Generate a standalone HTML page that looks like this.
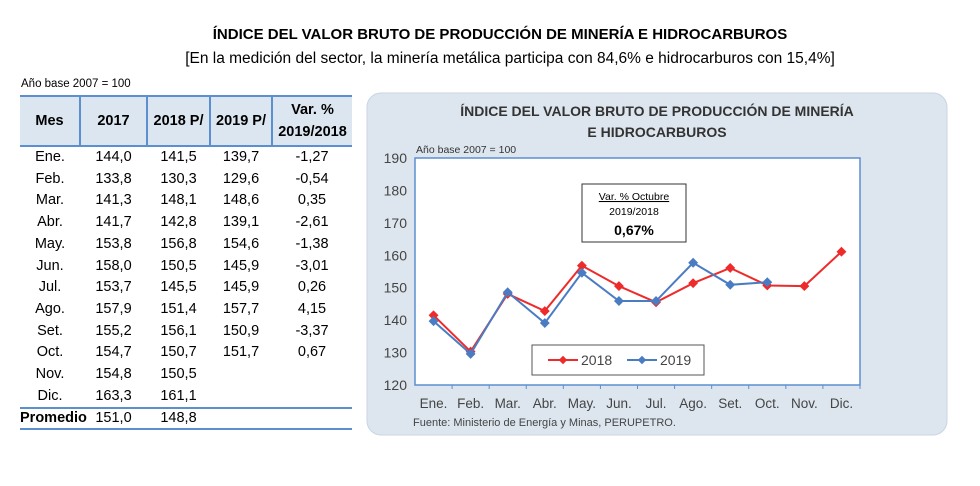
<!DOCTYPE html>
<html><head><meta charset="utf-8">
<style>
body{margin:0;width:980px;height:486px;background:#fff;font-family:"Liberation Sans",sans-serif;position:relative;overflow:hidden}
.t1{position:absolute;left:0;width:1000px;top:26px;text-align:center;font-weight:bold;font-size:15px}
.t2{position:absolute;left:0;width:1020px;top:50px;text-align:center;font-size:15.5px}
.base{position:absolute;left:21px;top:78px;font-size:11.5px}
table{position:absolute;left:20px;top:95px;border-collapse:collapse;font-size:14.5px;table-layout:fixed;width:332px}
td,th{padding:0;text-align:center;height:21.7px;line-height:21.7px}
th{background:#dce6f1;height:48px;line-height:22px;font-size:14.5px;border-left:2px solid #5b8fd0;border-top:2px solid #5b8fd0;border-bottom:2px solid #5b8fd0}
th:first-child{border-left:none}
.prom td{border-top:2px solid #5b8fd0;border-bottom:2px solid #5b8fd0;height:19px;line-height:19px}
.prom td:first-child{font-weight:bold}
</style></head><body>
<div class="t1">ÍNDICE DEL VALOR BRUTO DE PRODUCCIÓN DE MINERÍA E HIDROCARBUROS</div>
<div class="t2">[En la medición del sector, la minería metálica participa con 84,6% e hidrocarburos con 15,4%]</div>
<div class="base">Año base 2007 = 100</div>
<table>
<colgroup><col style="width:60px"><col style="width:67px"><col style="width:63px"><col style="width:62px"><col style="width:80px"></colgroup>
<thead>
<tr><th>Mes</th><th>2017</th><th>2018 P/</th><th>2019 P/</th><th>Var. %<br>2019/2018</th></tr>
</thead>
<tbody id="tb"></tbody>
</table>
<svg id="ch" width="980" height="486" style="position:absolute;left:0;top:0"></svg>
<script>
const months=["Ene.","Feb.","Mar.","Abr.","May.","Jun.","Jul.","Ago.","Set.","Oct.","Nov.","Dic."];
const v2017=["144,0","133,8","141,3","141,7","153,8","158,0","153,7","157,9","155,2","154,7","154,8","163,3"];
const s2018=[141.5,130.3,148.1,142.8,156.8,150.5,145.5,151.4,156.1,150.7,150.5,161.1];
const s2019=[139.7,129.6,148.6,139.1,154.6,145.9,145.9,157.7,150.9,151.7];
const varPct=["-1,27","-0,54","0,35","-2,61","-1,38","-3,01","0,26","4,15","-3,37","0,67","",""];
const yTicks=[120,130,140,150,160,170,180,190];
const f=v=>v.toFixed(1).replace('.',',');
const tb=document.getElementById('tb');
months.forEach((m,i)=>{
 const tr=document.createElement('tr');
 
 
 [m,v2017[i],f(s2018[i]),i<s2019.length?f(s2019[i]):"",varPct[i]].forEach(t=>{const td=document.createElement('td');td.textContent=t;tr.appendChild(td);});
 tb.appendChild(tr);
});
const pr=document.createElement('tr');pr.className='prom';


["Promedio","151,0","148,8","",""].forEach(t=>{const td=document.createElement('td');td.textContent=t;pr.appendChild(td);});
tb.appendChild(pr);

const NS="http://www.w3.org/2000/svg",svg=document.getElementById('ch');
function el(t,a,txt){const e=document.createElementNS(NS,t);for(const k in a)e.setAttribute(k,a[k]);if(txt!=null)e.textContent=txt;svg.appendChild(e);return e;}
const X0=415,X1=860,Y0=385,Y1=158;
const bw=(X1-X0)/12;
const x=i=>X0+bw*(i+0.5);
const y=v=>Y0-(v-120)/(190-120)*(Y0-Y1);
let e;
e=el('rect',{x:367,y:93,width:580,height:342,rx:14,fill:'#dde6ef',stroke:'#c9d5e2'});

e=el('text',{x:657,y:116,'text-anchor':'middle','font-size':14,'font-weight':'bold',fill:'#333'},'ÍNDICE DEL VALOR BRUTO DE PRODUCCIÓN DE MINERÍA');

el('text',{x:657,y:137,'text-anchor':'middle','font-size':14,'font-weight':'bold',fill:'#333'},'E HIDROCARBUROS');
e=el('text',{x:416,y:153,'font-size':10.5,fill:'#333'},'Año base  2007  =  100');

e=el('rect',{x:X0,y:Y1,width:X1-X0,height:Y0-Y1,fill:'#fff',stroke:'#5b8fd0','stroke-width':1.5});

yTicks.forEach(t=>{e=el('text',{x:407,y:y(t)+5,'text-anchor':'end','font-size':14,fill:'#444'},t);
 });
months.forEach((m,i)=>{e=el('text',{x:x(i),y:408,'text-anchor':'middle','font-size':13.5,fill:'#444'},m);
 
 el('line',{x1:X0+bw*(i+1),x2:X0+bw*(i+1),y1:Y0,y2:Y0+4,stroke:'#5b8fd0'});});
e=el('text',{x:413,y:426,'font-size':11,fill:'#444'},'Fuente: Ministerio de Energía y Minas, PERUPETRO.');

function series(d,c,n){
 e=el('polyline',{points:d.map((v,i)=>x(i)+','+y(v)).join(' '),fill:'none',stroke:c,'stroke-width':2});
 
 d.forEach((v,i)=>{e=el('rect',{x:x(i)-3.5,y:y(v)-3.5,width:7,height:7,fill:c,transform:`rotate(45 ${x(i)} ${y(v)})`});
  });
}
series(s2018,'#ee2a2a','2018');
series(s2019,'#4a7cc4','2019');
e=el('rect',{x:582,y:184,width:104,height:58,fill:'#fff',stroke:'#333'});

el('text',{x:634,y:200,'text-anchor':'middle','font-size':10.5,'text-decoration':'underline'},'Var. % Octubre');
el('text',{x:634,y:215,'text-anchor':'middle','font-size':10.5},'2019/2018');
el('text',{x:634,y:235,'text-anchor':'middle','font-size':14,'font-weight':'bold'},'0,67%');
e=el('rect',{x:532,y:345,width:172,height:30,fill:'#fff',stroke:'#555'});

[['2018','#ee2a2a',548],['2019','#4a7cc4',627]].forEach(([n,c,lx])=>{
 e=el('line',{x1:lx,x2:lx+30,y1:360,y2:360,stroke:c,'stroke-width':2});
 
 el('rect',{x:lx+12,y:357,width:6,height:6,fill:c,transform:`rotate(45 ${lx+15} 360)`});
 el('text',{x:lx+33,y:365,'font-size':14,fill:'#444'},n);
});
</script>
</body></html>
